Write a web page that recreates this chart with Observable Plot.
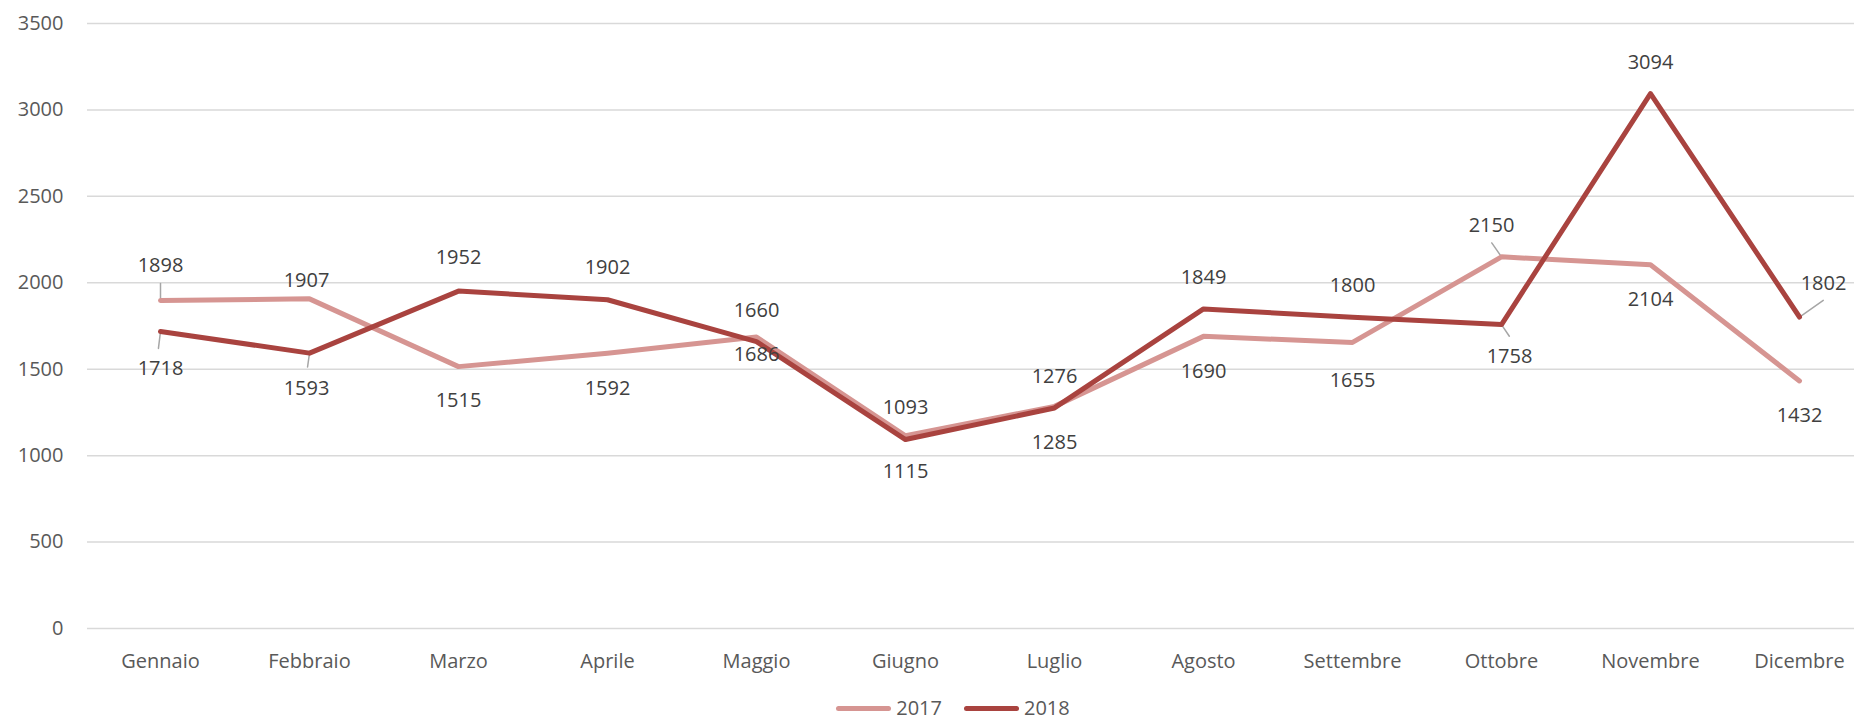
<!DOCTYPE html>
<html><head><meta charset="utf-8">
<script src="https://cdn.jsdelivr.net/npm/d3@7"></script>
<script src="https://cdn.jsdelivr.net/npm/@observablehq/plot@0.6"></script>
<style>
body{margin:0;background:#fff;font-family:"Open Sans",sans-serif;}
#legend{display:flex;justify-content:center;align-items:center;height:24px;line-height:24px;font-size:20px;color:#595959;padding-left:52px;}
.item{display:flex;align-items:center;margin:0 11px;}
.sw{width:55px;height:5px;border-radius:3px;margin-right:5px;}
</style></head><body><div id="chart"></div><div id="legend"></div><script>
const months = ["Gennaio","Febbraio","Marzo","Aprile","Maggio","Giugno","Luglio","Agosto","Settembre","Ottobre","Novembre","Dicembre"];
const values2017 = [1898,1907,1515,1592,1686,1115,1285,1690,1655,2150,2104,1432];
const values2018 = [1718,1593,1952,1902,1660,1093,1276,1849,1800,1758,3094,1802];
const seriesNames = ["2017","2018"];
const yTicks = [0,500,1000,1500,2000,2500,3000,3500];
const colors = ["#d69592","#a9433f"];

// label placement (pixel offsets from point)
const labelDx = {"2017":[0,-3,0,0,0,0,0,0,0,-10,0,0], "2018":[0,-3,0,0,0,0,0,0,0,8,0,24]};
const labelDy = {"2017":[-35,-18,34,35,18,36,36,35,38,-31,35,35], "2018":[37,35,-33,-32,-31,-32,-31,-31,-32,32,-31,-33]};
const leaders = [
  {series:"2017", month:"Gennaio", length:17, rotate:0},
  {series:"2018", month:"Gennaio", length:17, rotate:187},
  {series:"2018", month:"Febbraio", length:14, rotate:188},
  {series:"2017", month:"Ottobre", length:17, rotate:325},
  {series:"2018", month:"Ottobre", length:14, rotate:146},
  {series:"2018", month:"Dicembre", length:29, rotate:55}
];

const table = {"2017": values2017, "2018": values2018};
const data = seriesNames.flatMap(s => months.map((m,i) => ({month:m, series:s, value:table[s][i]})));
const valueOf = (s,m) => table[s][months.indexOf(m)];

const lineShape = {draw(ctx, l){ctx.moveTo(0,0); ctx.lineTo(0,-l);}};

const labelMarks = data.map(d => {
  const i = months.indexOf(d.month);
  return Plot.text([d], {x:"month", y:"value", text:d => String(d.value), dx:labelDx[d.series][i], dy:labelDy[d.series][i], fill:"#404040", fontSize:20, textAnchor:"middle", lineAnchor:"middle"});
});
const leaderMarks = leaders.map(l => Plot.vector([{month:l.month, value:valueOf(l.series,l.month)}], {x:"month", y:"value", length:l.length, rotate:l.rotate, anchor:"start", shape:lineShape, stroke:"#a6a6a6", strokeWidth:1.5}));

const chart = Plot.plot({
  width:1854, height:696,
  marginLeft:87, marginRight:0, marginTop:23, marginBottom:68,
  style:{fontFamily:"'Open Sans', sans-serif", fontSize:"20px", color:"#595959", background:"#fff"},
  x:{type:"point", domain:months, range:[160,1799], padding:0, tickSize:0, tickPadding:25, label:null},
  y:{domain:[0,3500], ticks:yTicks, tickFormat:d => String(d), tickSize:0, tickPadding:24, label:null},
  color:{domain:seriesNames, range:colors},
  marks:[
    Plot.ruleY(yTicks, {stroke:"#d9d9d9", strokeWidth:1.5}),
    ...leaderMarks,
    Plot.line(data, {x:"month", y:"value", z:"series", stroke:"series", strokeWidth:5, strokeLinecap:"round", strokeLinejoin:"round"}),
    ...labelMarks
  ]
});
document.getElementById("chart").appendChild(chart);
const legend = document.getElementById("legend");
seriesNames.forEach((s,i) => {
  const it = document.createElement("div"); it.className="item";
  const sw = document.createElement("div"); sw.className="sw"; sw.style.background=colors[i];
  const t = document.createElement("span"); t.textContent=s;
  it.appendChild(sw); it.appendChild(t); legend.appendChild(it);
});
</script></body></html>
